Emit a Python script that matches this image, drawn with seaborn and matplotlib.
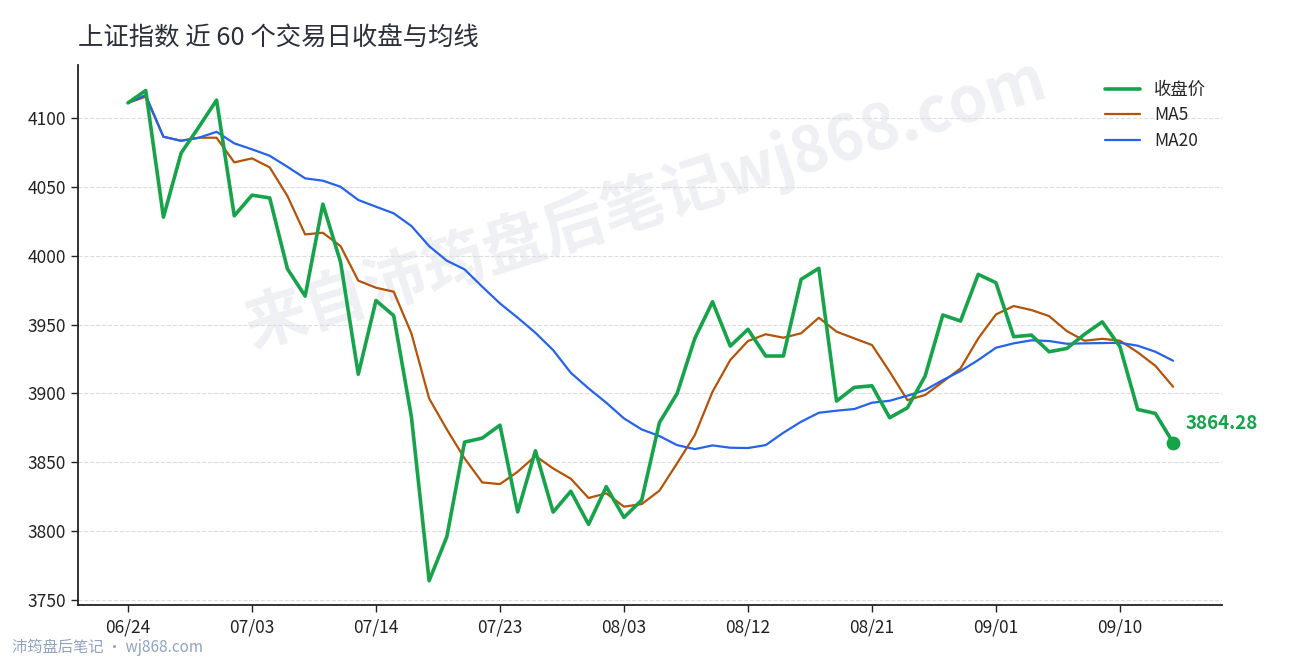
import pandas as pd
import matplotlib
matplotlib.use('Agg')
import matplotlib.pyplot as plt
import seaborn as sns

# Values (last 60 trading days)
close = [4111, 4120, 4028, 4074.6, 4093.5, 4113, 4029, 4044, 4042, 3990.5,
         3970.7, 4037.5, 3995.4, 3914, 3967.5, 3956.5, 3883, 3764, 3796, 3864.7,
         3867.6, 3877, 3814, 3858.4, 3813.9, 3829, 3805, 3832.3, 3810, 3822.6,
         3878.8, 3900, 3940, 3966.6, 3934.4, 3946.6, 3927.2, 3927.2, 3982.9, 3990.9,
         3894.5, 3904.4, 3905.6, 3882.4, 3889.6, 3912.6, 3957, 3952.6, 3986.5, 3980.4,
         3941.2, 3942.4, 3930.3, 3932.7, 3943, 3952, 3934, 3888.4, 3885.5, 3864.28]
ma5 = [4111, 4115.5, 4086.4, 4083.5, 4085.7, 4085.7, 4067.8, 4070.7, 4064.2, 4043.4,
       4015.5, 4016.7, 4007, 3981.9, 3976.8, 3973.9, 3943.6, 3896.4, 3873.9, 3852.9,
       3835.4, 3834.2, 3843.2, 3854.6, 3845.6, 3838.1, 3824.1, 3827.5, 3817.8, 3819.7,
       3829.4, 3849.3, 3869.8, 3901.3, 3924.3, 3938.1, 3943, 3940.5, 3943.7, 3955,
       3944.9, 3940, 3935.2, 3915.8, 3895.2, 3898.9, 3908.5, 3918.2, 3940, 3957.4,
       3963.5, 3960.6, 3956.2, 3945.3, 3938.3, 3939.7, 3938.3, 3929.9, 3920.1, 3904.9]
ma20 = [4111, 4116.7, 4086.4, 4083.5, 4085.7, 4090, 4081.6, 4077.3, 4072.6, 4064.6,
        4056.2, 4054.5, 4050.1, 4040.5, 4035.6, 4030.8, 4021.6, 4007, 3996.4, 3990.1,
        3977.5, 3965.4, 3955, 3944.1, 3931.5, 3915, 3903.7, 3893.3, 3881.9, 3873.9,
        3869.1, 3862.5, 3859.6, 3862.3, 3860.6, 3860.4, 3862.5, 3871.5, 3879.5, 3886,
        3887.5, 3888.7, 3893.3, 3894.7, 3898.4, 3902.5, 3909.7, 3916.3, 3924.3, 3933.2,
        3936.4, 3938.6, 3938.1, 3936.1, 3936.4, 3936.6, 3936.8, 3934.7, 3930.3, 3923.8]

tick_pos = [0, 7, 14, 21, 28, 35, 42, 49, 56]
tick_labels = ['06/24', '07/03', '07/14', '07/23', '08/03', '08/12', '08/21', '09/01', '09/10']
y_ticks = [3750, 3800, 3850, 3900, 3950, 4000, 4050, 4100]

df = pd.DataFrame({'day': range(len(close)), 'close': close, 'ma5': ma5, 'ma20': ma20})

sns.set_theme(style='ticks')
plt.rcParams['font.family'] = ['Noto Sans CJK SC', 'DejaVu Sans']
plt.rcParams['axes.unicode_minus'] = False

GREEN = '#16a34a'
ORANGE = '#b45309'
BLUE = '#2563eb'

fig = plt.figure(figsize=(12.9, 6.6), dpi=100)
ax = fig.add_axes([0.0605, 0.0833, 0.8865, 0.8182])

sns.lineplot(data=df, x='day', y='close', color=GREEN, linewidth=2.6, label='收盘价', ax=ax, zorder=4)
sns.lineplot(data=df, x='day', y='ma5', color=ORANGE, linewidth=1.6, label='MA5', ax=ax, zorder=3)
sns.lineplot(data=df, x='day', y='ma20', color=BLUE, linewidth=1.6, label='MA20', ax=ax, zorder=3)

# last close marker and label
last_x = df['day'].iloc[-1]
last_y = df['close'].iloc[-1]
ax.scatter([last_x], [last_y], s=80, color=GREEN, zorder=5)
ax.annotate(f'{last_y:.2f}', (last_x, last_y), xytext=(9, 14), textcoords='offset points',
            color=GREEN, fontsize=13.5, fontweight='bold', va='center', ha='left')

# watermark
ax.text(0.4956, 0.744, '来自沛筠盘后笔记wj868.com', transform=ax.transAxes, rotation=17.5,
        fontsize=45, fontweight='bold', color='#eef0f4', ha='center', va='center', zorder=0.5)

ax.set_xlim(-2.82, 61.74)
ax.set_ylim(3746.4, 4138.5)
ax.set_xticks(tick_pos)
ax.set_xticklabels(tick_labels)
ax.set_yticks(y_ticks)
ax.set_xlabel('')
ax.set_ylabel('')
ax.tick_params(axis='both', labelsize=12.5, colors='#222222', length=5, width=1)
ax.tick_params(axis='x', pad=5)
ax.grid(axis='y', linestyle='--', color='#dddddd', linewidth=0.8)
ax.set_axisbelow(True)
for side in ['top', 'right']:
    ax.spines[side].set_visible(False)
for side in ['left', 'bottom']:
    ax.spines[side].set_color('#222222')
    ax.spines[side].set_linewidth(1.3)

leg = ax.legend(loc='upper right', frameon=False, fontsize=12.5, handlelength=2.0,
                labelspacing=0.45, bbox_to_anchor=(1.0, 1.0))

fig.text(0.0605, 0.941, '上证指数 近 60 个交易日收盘与均线', fontsize=18.3, color='#2a2f3a',
         ha='left', va='center')
fig.text(0.009, 0.006, '沛筠盘后笔记 · wj868.com', fontsize=11, color='#8fa3c0',
         ha='left', va='bottom')

fig.savefig('out.png', dpi=100)
